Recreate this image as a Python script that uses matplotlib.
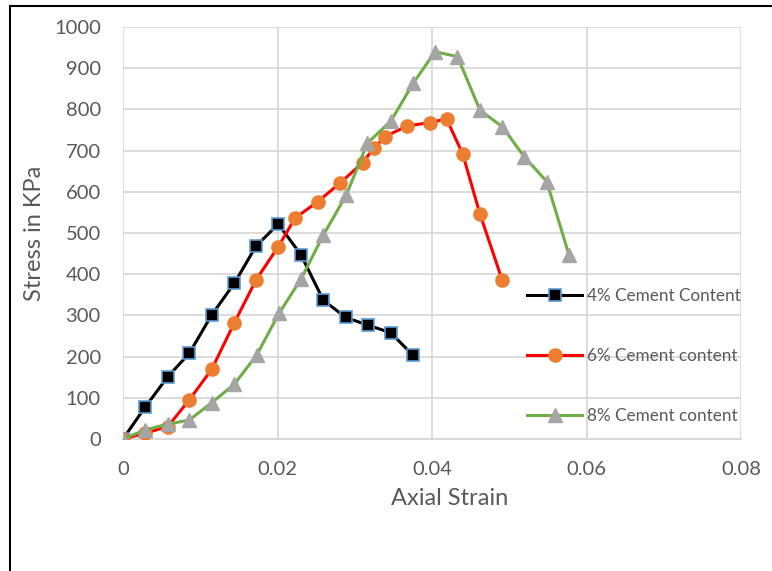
import matplotlib
matplotlib.use("Agg")
import matplotlib.pyplot as plt
from matplotlib.lines import Line2D

plt.rcParams['font.family'] = ['Lato', 'DejaVu Sans']

# Axial strain / stress (kPa) for three cement contents
strain_4 = [0, 0.00285, 0.00579, 0.00858, 0.01148, 0.01441, 0.01722, 0.0201,
            0.02304, 0.02593, 0.02883, 0.03175, 0.03465, 0.0375]
stress_4 = [0, 77, 151, 208, 301, 378, 468, 522, 447, 337, 295, 276, 258, 204]

strain_6 = [0, 0.00285, 0.00579, 0.00858, 0.01148, 0.01441, 0.01722, 0.0201,
            0.02227, 0.0252, 0.02809, 0.03103, 0.03253, 0.03392, 0.0368,
            0.03974, 0.04188, 0.04397, 0.04621, 0.0491]
stress_6 = [0, 14, 30, 95, 169, 282, 386, 467, 536, 576, 621, 671, 707, 734,
            760, 768, 777, 692, 546, 385]

strain_8 = [0, 0.00285, 0.00579, 0.00858, 0.01148, 0.01441, 0.01731, 0.0202,
            0.02304, 0.02593, 0.0289, 0.03163, 0.03469, 0.03755, 0.04039,
            0.0433, 0.04621, 0.0491, 0.05195, 0.05485, 0.05773]
stress_8 = [0, 22, 36, 46, 88, 133, 204, 305, 388, 495, 592, 718, 772, 863,
            940, 928, 798, 758, 685, 625, 447]

labels = ["4% Cement Content", "6% Cement content", "8% Cement content"]
x_ticks = [0, 0.02, 0.04, 0.06, 0.08]
x_tick_labels = ["0", "0.02", "0.04", "0.06", "0.08"]
y_ticks = list(range(0, 1001, 100))

text_grey = "#595959"
grid_grey = "#d9d9d9"

fig = plt.figure(figsize=(7.72, 5.71), dpi=100)
ax = fig.add_axes([123 / 772, 1 - 439 / 571, 618 / 772, 412 / 571])

ax.plot(strain_4, stress_4, color="black", lw=2.2, marker="s", ms=8.5,
        markerfacecolor="black", markeredgecolor="#5b9bd5", markeredgewidth=1.2,
        label=labels[0], zorder=3)
ax.plot(strain_6, stress_6, color="#ff0000", lw=2.2, marker="o", ms=9.5,
        markerfacecolor="#ed7d31", markeredgecolor="#ed7d31",
        label=labels[1], zorder=4)
ax.plot(strain_8, stress_8, color="#70ad47", lw=2.2, marker="^", ms=10,
        markerfacecolor="#a5a5a5", markeredgecolor="#a5a5a5",
        label=labels[2], zorder=5)

ax.set_xlim(0, 0.08)
ax.set_ylim(0, 1000)
ax.set_xticks(x_ticks)
ax.set_xticklabels(x_tick_labels)
ax.set_yticks(y_ticks)
ax.grid(True, color=grid_grey, lw=1.3)
ax.set_axisbelow(True)
for side in ["top", "right", "left"]:
    ax.spines[side].set_visible(False)
ax.spines["bottom"].set_color(grid_grey)
ax.spines["bottom"].set_linewidth(1.5)
ax.tick_params(length=0, labelsize=14.5, labelcolor=text_grey)
ax.tick_params(axis="x", pad=16)
ax.tick_params(axis="y", pad=16)

ax.set_xlabel("Axial Strain", fontsize=17, color=text_grey)
ax.set_ylabel("Stress in KPa", fontsize=17, color=text_grey)
ax.xaxis.set_label_coords(0.529, -0.118)
ax.yaxis.set_label_coords(-0.126, 0.5)

ax.legend(loc="center left", bbox_to_anchor=(0.654, 0.2015), frameon=False,
          borderpad=0, borderaxespad=0, handlelength=3.2, handletextpad=0.3,
          labelspacing=2.6, fontsize=12.3, labelcolor=text_grey)

# outer frame on left and top
fig.add_artist(Line2D([10 / 772, 10 / 772], [0, 1 - 6 / 571], color="black",
                      lw=1.5, transform=fig.transFigure))
fig.add_artist(Line2D([10 / 772, 1], [1 - 6 / 571, 1 - 6 / 571], color="black",
                      lw=1.5, transform=fig.transFigure))

fig.savefig("out.png", dpi=100)
